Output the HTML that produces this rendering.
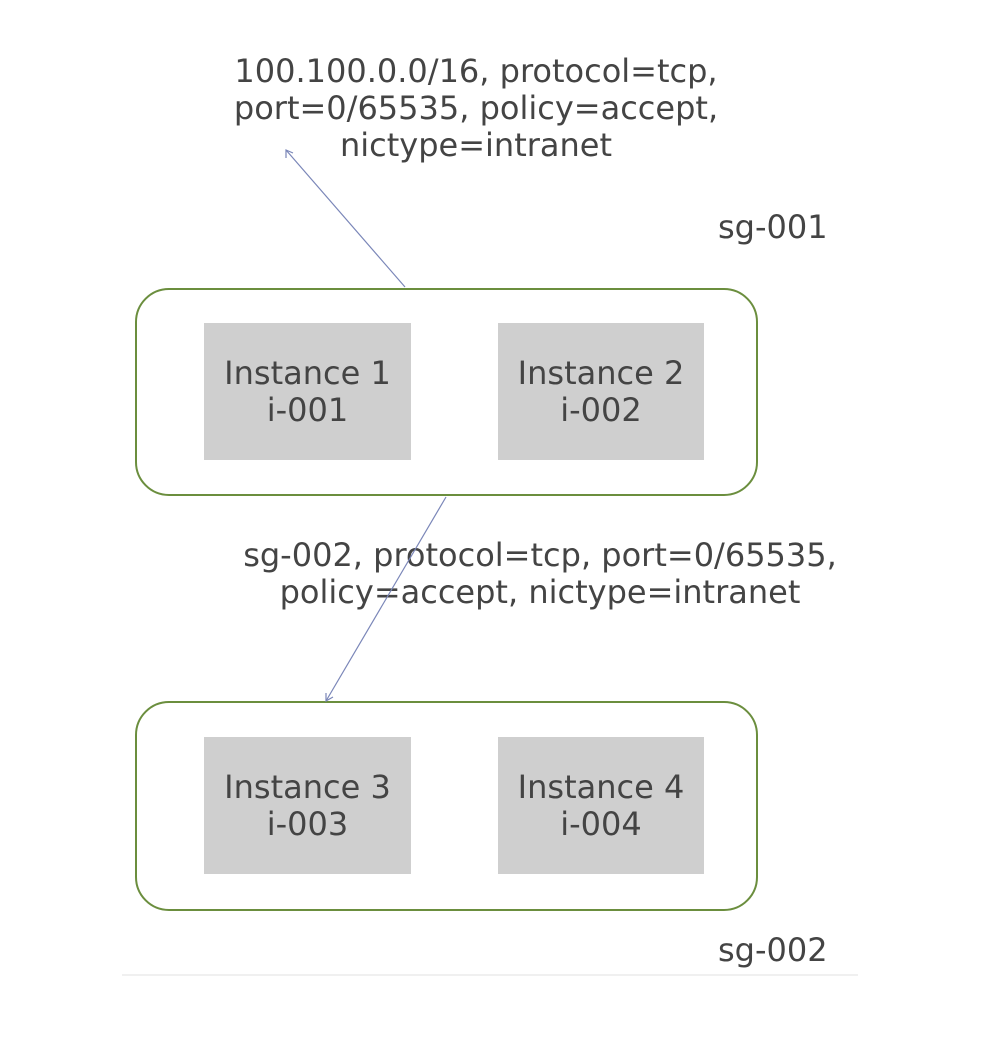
<!DOCTYPE html>
<html><head><meta charset="utf-8"><style>
body{margin:0;width:996px;height:1052px;background:#fff;position:relative;overflow:hidden;font-family:"DejaVu Sans","Liberation Sans",sans-serif;color:#444}
.t{position:absolute;font-size:32px;text-align:center;line-height:37px;white-space:nowrap}
.sg{position:absolute;border:2.5px solid #6b8e3e;border-radius:34px;box-sizing:border-box}
.inst{position:absolute;background:#cfcfcf;font-size:32px;text-align:center;line-height:37px;color:#444;display:flex;align-items:center;justify-content:center;box-sizing:border-box;white-space:nowrap}
</style></head><body>
<div class="t" style="left:176px;width:600px;top:53px">100.100.0.0/16, protocol=tcp,<br>port=0/65535, policy=accept,<br>nictype=intranet</div>
<div class="t" style="left:718px;top:209px">sg-001</div>
<div class="sg" style="left:135px;top:288px;width:623px;height:208px"></div>
<div class="inst" style="left:204px;top:323px;width:207px;height:137px">Instance 1<br>i-001</div>
<div class="inst" style="left:498px;top:323px;width:206px;height:137px">Instance 2<br>i-002</div>
<div class="t" style="left:190px;width:700px;top:537px">sg-002, protocol=tcp, port=0/65535,<br>policy=accept, nictype=intranet</div>
<div class="sg" style="left:135px;top:701px;width:623px;height:210px"></div>
<div class="inst" style="left:204px;top:737px;width:207px;height:137px">Instance 3<br>i-003</div>
<div class="inst" style="left:498px;top:737px;width:206px;height:137px">Instance 4<br>i-004</div>
<div class="t" style="left:718px;top:932px">sg-002</div>
<div style="position:absolute;left:122px;top:974px;width:736px;height:2px;background:#f0f0f0"></div>
<svg width="996" height="1052" style="position:absolute;left:0;top:0">
<g stroke="#7a86b8" stroke-width="1.2" fill="none">
<line x1="405" y1="287" x2="286" y2="150"/>
<polyline points="286,158 286,150 293,153"/>
<line x1="446" y1="497" x2="326" y2="701"/>
<polyline points="326,693 326,701 333,697"/>
</g></svg>
</body></html>
